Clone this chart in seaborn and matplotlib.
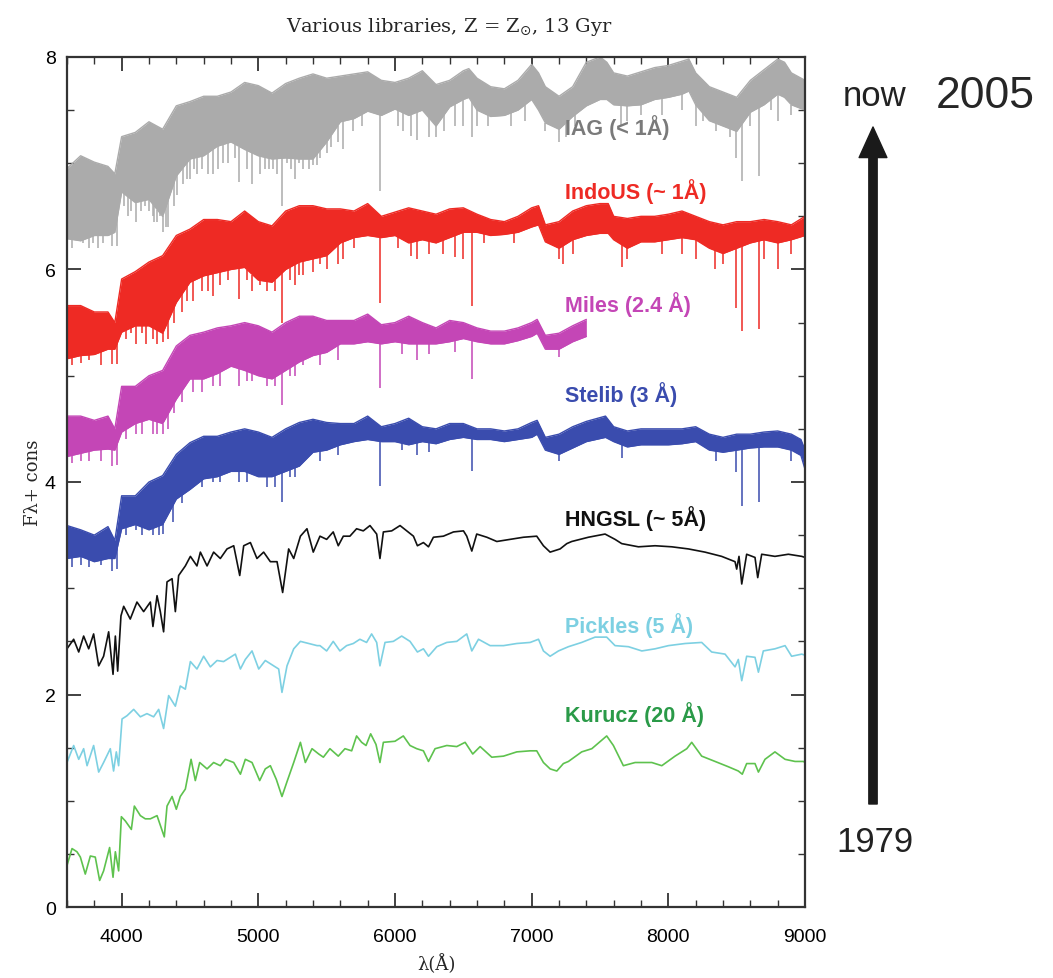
import numpy as np
import matplotlib
matplotlib.use("Agg")
import matplotlib.pyplot as plt
import seaborn as sns

# ---- spectra (wavelength in A, flux + offset) ----
# high resolution libraries: upper / lower envelope of the noisy band + deep lines
iag_wl = [3600, 3700, 3800, 3900, 3950, 4000, 4100, 4200, 4300, 4400, 4500, 4600, 4700, 4800,
          4900, 5000, 5100, 5200, 5300, 5400, 5500, 5600, 5700, 5800, 5900, 6000, 6100, 6200,
          6300, 6400, 6500, 6540, 6600, 6700, 6800, 6900, 7000, 7050, 7100, 7200, 7300, 7400,
          7500, 7550, 7600, 7700, 7800, 7900, 8000, 8100, 8150, 8200, 8300, 8400, 8500, 8600,
          8700, 8800, 8850, 8900, 9000]
iag_hi = [6.95, 7.07, 7.01, 6.97, 6.90, 7.25, 7.29, 7.39, 7.32, 7.54, 7.58, 7.63, 7.63, 7.67,
          7.76, 7.73, 7.66, 7.75, 7.80, 7.84, 7.80, 7.82, 7.84, 7.86, 7.78, 7.76, 7.80, 7.87,
          7.74, 7.78, 7.87, 7.89, 7.80, 7.72, 7.70, 7.78, 7.93, 7.85, 7.72, 7.63, 7.72, 7.95,
          8.00, 7.95, 7.85, 7.82, 7.86, 7.90, 7.92, 7.96, 7.98, 7.85, 7.72, 7.67, 7.62, 7.78,
          7.88, 7.98, 7.95, 7.85, 7.78]
iag_lo = [6.29, 6.27, 6.32, 6.32, 6.35, 6.73, 6.63, 6.66, 6.50, 6.88, 7.04, 7.07, 7.16, 7.20,
          7.13, 7.07, 7.04, 7.05, 7.04, 7.04, 7.20, 7.39, 7.42, 7.49, 7.45, 7.51, 7.45, 7.50,
          7.35, 7.53, 7.60, 7.62, 7.50, 7.44, 7.45, 7.50, 7.60, 7.50, 7.38, 7.32, 7.44, 7.54,
          7.60, 7.60, 7.55, 7.54, 7.55, 7.60, 7.62, 7.65, 7.68, 7.55, 7.40, 7.35, 7.30, 7.48,
          7.55, 7.65, 7.62, 7.55, 7.50]
iag_line_wl = [3830, 3860, 3933, 3968, 4045, 4102, 4227, 4260, 4300, 4325, 4340, 4384, 4405,
               4500, 4550, 4668, 4702, 4861, 4920, 4957, 5015, 5110, 5175, 5270, 5330, 5400,
               5430, 5620, 5890, 6120, 6160, 6300, 6495, 6562, 7200, 7650, 8200, 8498, 8542,
               8662, 8800,
               3640, 3680, 3720, 3760, 3790, 4020, 4070, 4140, 4170, 4200, 4240, 4280, 4450,
               4480, 4530, 4590, 4630, 4740, 4780, 4830, 5050, 5080, 5140, 5210, 5240, 5300,
               5370, 5450, 5500, 5530, 5580, 5690, 5760, 6020, 6060, 6250, 6360, 6440, 6600,
               6680, 6850, 6950, 7100, 7250, 7320, 7700, 7800, 7950, 8100, 8250, 8350, 8450,
               8600, 8750, 8900]
iag_line_y = [6.20, 6.25, 6.22, 6.22, 6.50, 6.45, 6.50, 6.45, 6.35, 6.40, 6.40, 6.60, 6.70,
              6.85, 6.90, 6.90, 6.95, 6.82, 6.95, 6.80, 6.90, 6.95, 6.60, 6.85, 6.95, 6.98,
              6.98, 7.13, 6.74, 7.26, 7.22, 7.25, 7.35, 7.25, 7.20, 7.35, 7.35, 7.05, 6.83,
              6.88, 7.40,
              6.20, 6.30, 6.25, 6.20, 6.25, 6.60, 6.55, 6.55, 6.60, 6.55, 6.45, 6.50, 6.80,
              6.85, 6.95, 6.95, 6.90, 7.00, 7.00, 7.05, 6.95, 6.95, 6.90, 7.00, 6.95, 7.00,
              6.95, 7.05, 7.10, 7.15, 7.20, 7.30, 7.35, 7.35, 7.30, 7.25, 7.30, 7.35, 7.35,
              7.35, 7.35, 7.40, 7.30, 7.25, 7.35, 7.40, 7.45, 7.45, 7.50, 7.40, 7.30, 7.25,
              7.35, 7.50, 7.45]

indo_wl = [3600, 3700, 3800, 3900, 3950, 4000, 4100, 4200, 4300, 4400, 4500, 4600, 4700, 4800,
           4900, 5000, 5100, 5200, 5300, 5400, 5500, 5600, 5700, 5800, 5900, 6000, 6100, 6200,
           6300, 6400, 6500, 6600, 6700, 6800, 6900, 7000, 7050, 7100, 7200, 7300, 7400, 7500,
           7560, 7600, 7700, 7800, 7900, 8000, 8100, 8200, 8300, 8400, 8500, 8600, 8700, 8800,
           8900, 9000]
indo_hi = [5.66, 5.66, 5.60, 5.60, 5.50, 5.91, 5.98, 6.07, 6.13, 6.32, 6.38, 6.47, 6.47, 6.45,
           6.55, 6.45, 6.41, 6.55, 6.60, 6.60, 6.57, 6.57, 6.55, 6.62, 6.50, 6.54, 6.58, 6.55,
           6.52, 6.57, 6.58, 6.52, 6.47, 6.45, 6.50, 6.58, 6.60, 6.42, 6.45, 6.55, 6.60, 6.62,
           6.62, 6.50, 6.48, 6.50, 6.50, 6.52, 6.55, 6.50, 6.45, 6.42, 6.45, 6.45, 6.47, 6.45,
           6.42, 6.50]
indo_lo = [5.16, 5.19, 5.20, 5.25, 5.25, 5.41, 5.47, 5.47, 5.40, 5.69, 5.88, 5.94, 5.97, 6.00,
           6.02, 5.90, 5.88, 6.00, 6.07, 6.10, 6.13, 6.25, 6.30, 6.32, 6.30, 6.32, 6.25, 6.28,
           6.25, 6.30, 6.35, 6.35, 6.32, 6.33, 6.35, 6.40, 6.42, 6.26, 6.20, 6.28, 6.32, 6.34,
           6.34, 6.28, 6.20, 6.26, 6.26, 6.28, 6.30, 6.28, 6.20, 6.15, 6.20, 6.25, 6.28, 6.25,
           6.28, 6.32]
indo_line_wl = [3850, 3933, 3968, 4102, 4227, 4300, 4340, 4384, 4520, 4668, 4861, 4957, 5015,
                5175, 5270, 5330, 5400, 5620, 5890, 6120, 6160, 6500, 6562, 7200, 7660, 8200,
                8340, 8498, 8542, 8662, 8800,
                3640, 3700, 3760, 4030, 4070, 4150, 4180, 4260, 4440, 4480, 4590, 4630, 4720,
                4780, 4920, 5060, 5120, 5230, 5300, 5450, 5500, 5580, 5700, 6020, 6250, 6350,
                6440, 6650, 6870, 7230, 7300, 7700, 7950, 8100, 8400, 8700, 8900]
indo_line_y = [5.10, 5.11, 5.11, 5.30, 5.35, 5.32, 5.35, 5.50, 5.70, 5.75, 5.72, 5.80, 5.85,
               5.50, 5.85, 5.95, 5.98, 6.10, 5.68, 6.13, 6.10, 6.10, 5.66, 6.10, 6.02, 6.10,
               6.00, 5.64, 5.42, 5.44, 6.00,
               5.10, 5.12, 5.15, 5.35, 5.40, 5.40, 5.30, 5.30, 5.60, 5.70, 5.80, 5.80, 5.85,
               5.90, 5.90, 5.80, 5.80, 5.90, 5.95, 6.05, 6.00, 6.05, 6.20, 6.20, 6.15, 6.15,
               6.12, 6.25, 6.25, 6.05, 6.15, 6.10, 6.15, 6.15, 6.05, 6.10, 6.15]

miles_wl = [3600, 3700, 3800, 3900, 3950, 4000, 4100, 4200, 4300, 4400, 4500, 4600, 4700, 4800,
            4900, 5000, 5100, 5200, 5300, 5400, 5500, 5600, 5700, 5800, 5900, 6000, 6100, 6200,
            6300, 6400, 6500, 6600, 6700, 6800, 6900, 7000, 7040, 7100, 7200, 7300, 7400]
miles_hi = [4.62, 4.62, 4.58, 4.62, 4.50, 4.90, 4.90, 5.00, 5.05, 5.28, 5.38, 5.41, 5.45, 5.47,
            5.50, 5.47, 5.41, 5.50, 5.56, 5.56, 5.52, 5.52, 5.52, 5.58, 5.48, 5.50, 5.56, 5.50,
            5.45, 5.52, 5.50, 5.45, 5.42, 5.42, 5.45, 5.50, 5.53, 5.38, 5.40, 5.47, 5.53]
miles_lo = [4.24, 4.27, 4.30, 4.31, 4.30, 4.47, 4.55, 4.59, 4.55, 4.78, 4.97, 4.97, 5.02, 5.09,
            5.05, 5.00, 4.97, 5.05, 5.13, 5.19, 5.22, 5.30, 5.30, 5.32, 5.30, 5.32, 5.30, 5.30,
            5.30, 5.32, 5.35, 5.32, 5.30, 5.30, 5.33, 5.37, 5.40, 5.25, 5.25, 5.32, 5.37]
miles_line_wl = [3850, 3933, 3968, 4102, 4227, 4300, 4340, 4384, 4520, 4668, 4861, 4957, 5175,
                 5270, 5330, 5890, 6160, 6562,
                 3640, 3700, 3760, 4030, 4150, 4260, 4440, 4590, 4720, 4920, 5060, 5120, 5230,
                 5450, 5580, 6050, 6250, 6440, 7200]
miles_line_y = [4.20, 4.15, 4.16, 4.45, 4.45, 4.45, 4.50, 4.65, 4.85, 4.90, 4.90, 4.95, 4.72,
                5.00, 5.10, 4.88, 5.15, 4.97,
                4.18, 4.20, 4.20, 4.40, 4.45, 4.45, 4.75, 4.85, 4.90, 4.95, 4.90, 4.90, 5.00,
                5.10, 5.15, 5.20, 5.20, 5.22, 5.18]

stelib_wl = [3600, 3700, 3800, 3900, 3950, 4000, 4100, 4200, 4300, 4400, 4500, 4600, 4700, 4800,
             4900, 5000, 5100, 5200, 5300, 5400, 5500, 5600, 5700, 5800, 5900, 6000, 6100, 6200,
             6300, 6400, 6500, 6600, 6700, 6800, 6900, 7000, 7040, 7100, 7200, 7300, 7400, 7540,
             7600, 7700, 7800, 7900, 8000, 8100, 8200, 8300, 8400, 8500, 8600, 8700, 8800, 8900,
             8970, 9000]
stelib_hi = [3.59, 3.55, 3.50, 3.58, 3.45, 3.87, 3.87, 4.00, 4.06, 4.26, 4.37, 4.43, 4.43, 4.47,
             4.50, 4.47, 4.42, 4.50, 4.56, 4.59, 4.56, 4.55, 4.55, 4.62, 4.52, 4.55, 4.60, 4.52,
             4.50, 4.55, 4.55, 4.50, 4.50, 4.48, 4.50, 4.56, 4.58, 4.42, 4.45, 4.52, 4.57, 4.62,
             4.52, 4.48, 4.50, 4.50, 4.50, 4.50, 4.52, 4.45, 4.42, 4.45, 4.45, 4.47, 4.48, 4.45,
             4.40, 4.30]
stelib_lo = [3.28, 3.30, 3.25, 3.28, 3.28, 3.56, 3.60, 3.55, 3.60, 3.84, 3.93, 4.03, 4.05, 4.10,
             4.10, 4.05, 4.05, 4.10, 4.15, 4.28, 4.30, 4.35, 4.38, 4.40, 4.38, 4.38, 4.35, 4.38,
             4.36, 4.40, 4.42, 4.40, 4.40, 4.38, 4.40, 4.42, 4.45, 4.30, 4.26, 4.32, 4.38, 4.42,
             4.38, 4.33, 4.35, 4.35, 4.35, 4.36, 4.38, 4.30, 4.28, 4.30, 4.32, 4.33, 4.33, 4.30,
             4.25, 4.12]
stelib_line_wl = [3850, 3933, 3968, 4102, 4227, 4270, 4300, 4377, 4520, 4668, 4861, 5175, 5270,
                  5890, 6160, 6562, 7660, 8498, 8542, 8662,
                  3640, 3700, 3760, 4030, 4150, 4440, 4590, 4720, 4920, 5060, 5120, 5230, 5450,
                  5580, 6050, 6250, 7200, 8350, 8900]
stelib_line_y = [3.22, 3.16, 3.18, 3.55, 3.50, 3.50, 3.51, 3.62, 3.95, 4.00, 4.00, 3.81, 4.05,
                 3.96, 4.25, 4.10, 4.23, 4.09, 3.77, 3.81,
                 3.20, 3.22, 3.20, 3.50, 3.50, 3.80, 3.95, 4.00, 4.00, 3.95, 3.95, 4.05, 4.20,
                 4.25, 4.30, 4.28, 4.20, 4.20, 4.20]

# lower resolution libraries: traced as a single line
hngsl_wl = [3600, 3649, 3686, 3722, 3759, 3795, 3832, 3868, 3905, 3937, 3954, 3971, 3995, 4015,
            4063, 4112, 4161, 4210, 4229, 4259, 4283, 4307, 4332, 4369, 4393, 4417, 4466, 4503,
            4551, 4576, 4625, 4673, 4722, 4771, 4820, 4864, 4893, 4942, 4990, 5039, 5088, 5137,
            5178, 5222, 5259, 5308, 5356, 5402, 5451, 5500, 5548, 5585, 5622, 5670, 5719, 5768,
            5817, 5866, 5890, 5915, 5976, 6037, 6086, 6135, 6164, 6208, 6245, 6281, 6354, 6428,
            6501, 6525, 6562, 6598, 6672, 6745, 6842, 6940, 7037, 7086, 7135, 7208, 7257, 7293,
            7415, 7537, 7610, 7659, 7781, 7903, 8025, 8147, 8268, 8390, 8488, 8500, 8517, 8537,
            8573, 8634, 8654, 8683, 8780, 8878, 8976, 9000]
hngsl_f = [2.43, 2.52, 2.40, 2.55, 2.43, 2.57, 2.27, 2.36, 2.59, 2.19, 2.55, 2.22, 2.74, 2.83,
           2.71, 2.87, 2.78, 2.87, 2.64, 2.93, 2.78, 2.59, 3.06, 3.09, 2.78, 3.12, 3.21, 3.30,
           3.21, 3.34, 3.21, 3.34, 3.28, 3.37, 3.40, 3.12, 3.40, 3.43, 3.28, 3.34, 3.25, 3.25,
           2.96, 3.37, 3.28, 3.49, 3.56, 3.34, 3.49, 3.46, 3.53, 3.40, 3.49, 3.49, 3.56, 3.54,
           3.59, 3.51, 3.28, 3.53, 3.54, 3.59, 3.54, 3.49, 3.40, 3.43, 3.39, 3.48, 3.49, 3.53,
           3.54, 3.49, 3.35, 3.51, 3.48, 3.44, 3.46, 3.48, 3.49, 3.40, 3.34, 3.37, 3.42, 3.44,
           3.48, 3.51, 3.46, 3.42, 3.39, 3.40, 3.39, 3.37, 3.34, 3.30, 3.25, 3.18, 3.30, 3.04,
           3.32, 3.29, 3.10, 3.32, 3.30, 3.32, 3.30, 3.29]

pickles_wl = [3600, 3649, 3686, 3722, 3747, 3795, 3832, 3868, 3917, 3941, 3961, 3978, 4003, 4039,
              4088, 4137, 4185, 4234, 4271, 4307, 4344, 4393, 4429, 4466, 4503, 4551, 4600, 4649,
              4698, 4746, 4795, 4832, 4869, 4905, 4954, 5003, 5051, 5112, 5149, 5173, 5210, 5259,
              5308, 5369, 5430, 5451, 5500, 5548, 5597, 5646, 5695, 5743, 5792, 5829, 5866, 5890,
              5927, 5988, 6049, 6110, 6164, 6208, 6245, 6306, 6379, 6452, 6525, 6562, 6611, 6696,
              6794, 6891, 6989, 7050, 7086, 7135, 7196, 7269, 7366, 7464, 7549, 7610, 7708, 7806,
              7903, 8001, 8123, 8244, 8317, 8415, 8488, 8512, 8537, 8573, 8634, 8659, 8695, 8780,
              8854, 8902, 8976, 9000]
pickles_f = [1.36, 1.52, 1.39, 1.49, 1.33, 1.52, 1.27, 1.36, 1.49, 1.28, 1.46, 1.33, 1.77, 1.80,
             1.86, 1.79, 1.82, 1.79, 1.86, 1.68, 1.99, 1.89, 2.08, 2.05, 2.31, 2.24, 2.36, 2.26,
             2.32, 2.31, 2.35, 2.38, 2.24, 2.33, 2.41, 2.24, 2.32, 2.27, 2.24, 2.02, 2.27, 2.43,
             2.50, 2.48, 2.46, 2.46, 2.41, 2.50, 2.41, 2.46, 2.48, 2.52, 2.49, 2.57, 2.49, 2.27,
             2.49, 2.50, 2.55, 2.50, 2.40, 2.43, 2.36, 2.45, 2.49, 2.50, 2.57, 2.41, 2.52, 2.46,
             2.46, 2.48, 2.49, 2.52, 2.41, 2.36, 2.41, 2.45, 2.49, 2.54, 2.54, 2.46, 2.45, 2.41,
             2.43, 2.46, 2.48, 2.49, 2.40, 2.38, 2.26, 2.33, 2.13, 2.36, 2.35, 2.21, 2.41, 2.43,
             2.46, 2.36, 2.38, 2.37]

kurucz_wl = [3600, 3637, 3673, 3698, 3734, 3771, 3807, 3839, 3868, 3912, 3937, 3954, 3978, 3998,
             4027, 4071, 4093, 4137, 4173, 4210, 4259, 4312, 4332, 4369, 4400, 4429, 4466, 4508,
             4539, 4571, 4625, 4673, 4722, 4759, 4820, 4869, 4905, 4954, 5010, 5051, 5088, 5132,
             5173, 5210, 5259, 5308, 5344, 5393, 5442, 5476, 5524, 5585, 5634, 5683, 5719, 5756,
             5788, 5822, 5861, 5890, 5915, 6000, 6061, 6110, 6159, 6208, 6245, 6293, 6379, 6452,
             6513, 6569, 6623, 6708, 6794, 6891, 6989, 7037, 7086, 7135, 7184, 7232, 7269, 7366,
             7440, 7549, 7598, 7671, 7757, 7879, 7952, 8049, 8135, 8171, 8244, 8342, 8439, 8512,
             8541, 8573, 8634, 8659, 8707, 8780, 8854, 8927, 8988, 9000]
kurucz_f = [0.39, 0.55, 0.52, 0.47, 0.31, 0.48, 0.47, 0.25, 0.34, 0.56, 0.28, 0.52, 0.34, 0.85,
            0.81, 0.73, 0.95, 0.86, 0.83, 0.83, 0.86, 0.66, 0.95, 1.04, 0.92, 1.04, 1.11, 1.39,
            1.19, 1.36, 1.30, 1.36, 1.33, 1.39, 1.36, 1.25, 1.39, 1.36, 1.19, 1.30, 1.33, 1.20,
            1.04, 1.18, 1.36, 1.55, 1.36, 1.49, 1.44, 1.41, 1.49, 1.42, 1.49, 1.47, 1.61, 1.55,
            1.52, 1.63, 1.53, 1.36, 1.55, 1.56, 1.61, 1.52, 1.49, 1.47, 1.37, 1.49, 1.52, 1.51,
            1.55, 1.44, 1.51, 1.41, 1.42, 1.46, 1.47, 1.47, 1.36, 1.30, 1.28, 1.35, 1.37, 1.46,
            1.49, 1.61, 1.52, 1.33, 1.36, 1.36, 1.33, 1.42, 1.49, 1.55, 1.42, 1.37, 1.32, 1.28,
            1.25, 1.35, 1.35, 1.27, 1.39, 1.46, 1.39, 1.37, 1.37, 1.36]

labels = ["IAG (< 1Å)", "IndoUS (~ 1Å)", "Miles (2.4 Å)", "Stelib (3 Å)",
          "HNGSL (~ 5Å)", "Pickles (5 Å)", "Kurucz (20 Å)"]
label_x = [7244, 7244, 7244, 7244, 7244, 7244, 7244]
label_y = [7.35, 6.74, 5.68, 4.83, 3.67, 2.66, 1.82]
line_colors = ["#ababab", "#ee2a24", "#c446b6", "#3a4cae", "#111111", "#7dd0e2", "#5ec24e"]
text_colors = ["#7a7a7a", "#ee2a24", "#c446b6", "#3a4cae", "#111111", "#7dd0e2", "#2a9a48"]

sns.set_style("ticks")
plt.rcParams["font.family"] = ["Liberation Sans", "DejaVu Sans"]

fig = plt.figure(figsize=(10.53, 9.79), dpi=100)
ax = fig.add_axes([0.0636, 0.0725, 0.7009, 0.8683])

bands = [(iag_wl, iag_hi, iag_lo, iag_line_wl, iag_line_y),
         (indo_wl, indo_hi, indo_lo, indo_line_wl, indo_line_y),
         (miles_wl, miles_hi, miles_lo, miles_line_wl, miles_line_y),
         (stelib_wl, stelib_hi, stelib_lo, stelib_line_wl, stelib_line_y)]
for (wl, hi, lo, lwl, ly), c in zip(bands, line_colors[:4]):
    ax.fill_between(wl, lo, hi, color=c, lw=0)
    sns.lineplot(x=wl, y=hi, ax=ax, color=c, lw=1.0, estimator=None, sort=False)
    sns.lineplot(x=wl, y=lo, ax=ax, color=c, lw=1.0, estimator=None, sort=False)
    tops = np.interp(lwl, wl, lo)
    ax.vlines(lwl, ly, tops, color=c, lw=1.1)

singles = [(hngsl_wl, hngsl_f), (pickles_wl, pickles_f), (kurucz_wl, kurucz_f)]
for (wl, f), c in zip(singles, line_colors[4:]):
    sns.lineplot(x=wl, y=f, ax=ax, color=c, lw=1.2, estimator=None, sort=False)

for t, x, y, c in zip(labels, label_x, label_y, text_colors):
    ax.text(x, y, t, color=c, fontsize=15.5, fontweight="bold", va="center", ha="left")

ax.set_xlim(3600, 9000)
ax.set_ylim(0, 8)
ax.set_xticks(range(4000, 9001, 1000))
ax.set_xticks(range(3600, 9001, 200), minor=True)
ax.set_yticks([0, 2, 4, 6, 8])
ax.set_yticks(np.arange(0, 8.01, 0.5), minor=True)
ax.tick_params(which="both", direction="in", top=True, right=True, colors="#333333",
               labelcolor="black")
ax.tick_params(which="major", length=10, width=1.3, labelsize=14)
ax.tick_params(which="minor", length=5, width=1.0)
ax.tick_params(axis="x", which="major", pad=15)
ax.tick_params(axis="y", which="major", pad=8)
for s in ax.spines.values():
    s.set_linewidth(1.6)
    s.set_color("#333333")

ax.set_xlabel("λ(Å)", family="DejaVu Serif", fontsize=13, labelpad=6)
ax.set_ylabel("Fλ+ cons", family="DejaVu Serif", fontsize=13, labelpad=2)
fig.text(0.427, 0.984, r"Various libraries, Z = Z$_{\odot}$, 13 Gyr",
         family="DejaVu Serif", fontsize=14, ha="center", va="top")

# time arrow on the right
ax.annotate("", xy=(873 / 1053, 1 - 128 / 979), xytext=(873 / 1053, 1 - 805 / 979),
            xycoords="figure fraction", textcoords="figure fraction",
            arrowprops=dict(arrowstyle="simple,head_length=0.55,head_width=0.5,tail_width=0.15",
                            color="#1a1a1a", mutation_scale=40, shrinkA=0, shrinkB=0))
fig.text(875 / 1053, 1 - 97 / 979, "now", fontsize=25, ha="center", va="center", color="#222222")
fig.text(985 / 1053, 1 - 97 / 979, "2005", fontsize=32, ha="center", va="center")
fig.text(875 / 1053, 1 - 843 / 979, "1979", fontsize=25, ha="center", va="center", color="#222222")

fig.savefig("out.png", dpi=100)
